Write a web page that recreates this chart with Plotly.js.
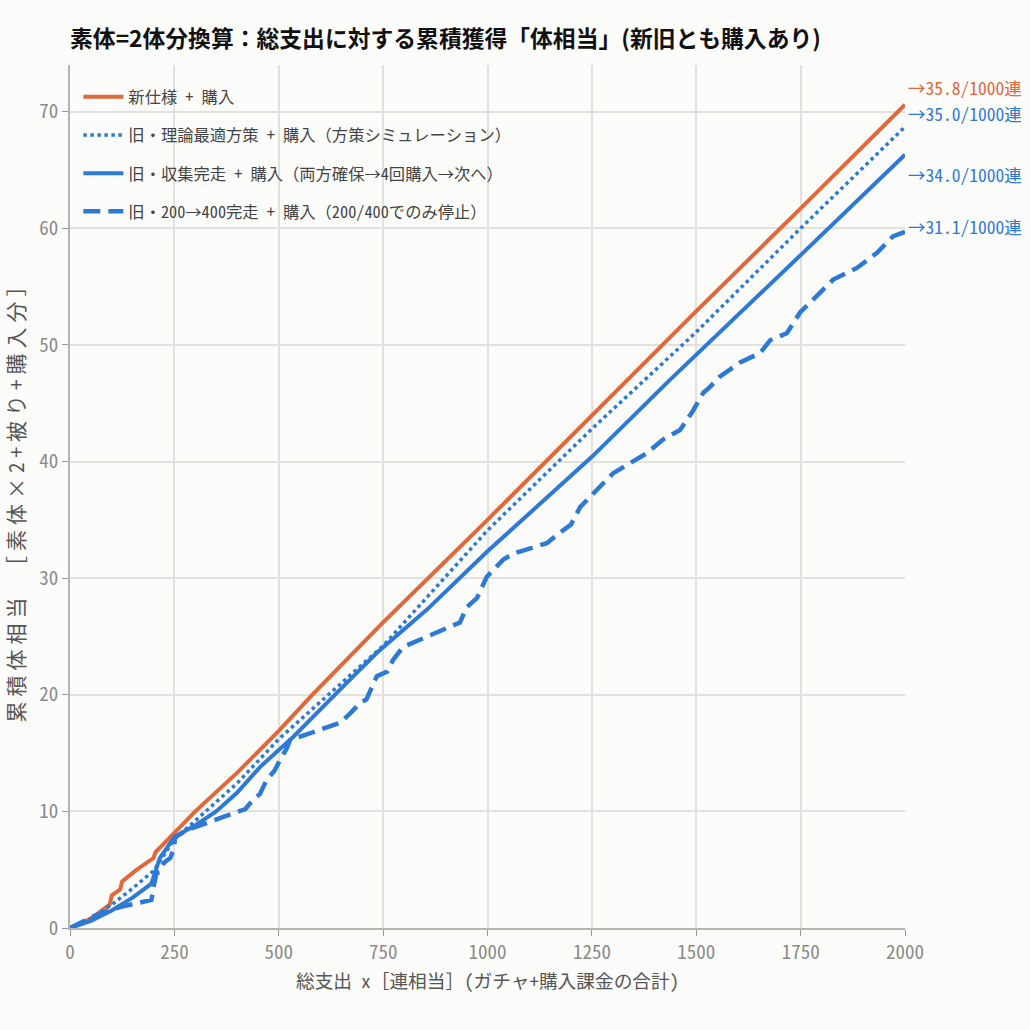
<!DOCTYPE html>
<html>
<head>
<meta charset="utf-8">
<script src="https://cdn.plot.ly/plotly-3.0.1.min.js"></script>
<style>
  body{margin:0;background:#fcfcfb;}
  #grafico{width:1030px;height:1030px;}
  #grafico .ytitle{letter-spacing:5px;}
</style>
</head>
<body>
<div id="grafico"></div>
<script>
// datos
var nuevoX=[0,50,95,100,120,125,160,200,205,250,300,400,455,500,583,750,1000,1250,1500,1750,2000];
var nuevoY=[0,0.8,2.0,2.8,3.3,4.0,5.0,6.0,6.5,8.2,10.0,13.3,15.3,16.9,20.1,26.2,35.0,44.0,52.9,61.7,70.6];

var teoriaX=[0,50,100,150,200,250,300,400,500,750,1000,1250,1500,1750,2000];
var teoriaY=[0,0.8,2.0,3.4,4.9,7.6,9.2,12.4,16.2,24.2,34.1,42.8,51.1,60.0,68.7];

var coleccionX=[0,50,100,150,195,215,250,300,350,400,455,535,654,735,855,1000,1250,1437,1750,2000];
var coleccionY=[0,0.6,1.5,2.6,3.8,6.0,7.8,8.8,10.0,11.6,13.8,16.4,20.7,23.6,27.3,32.3,40.4,47.0,57.7,66.3];

var parcialX=[0,56,120,195,200,207,215,225,240,248,252,280,327,400,420,439,455,471,490,503,519,527,647,671,695,710,735,760,774,798,934,950,975,998,1038,1062,1142,1181,1200,1222,1262,1301,1381,1421,1461,1493,1517,1533,1557,1605,1653,1677,1717,1749,1789,1828,1885,1933,1971,2000];
var parcialY=[0,1.0,1.8,2.4,3.5,4.7,4.8,5.6,6.0,6.7,7.8,8.4,9.0,9.9,10.2,11.0,11.5,12.7,13.5,14.4,15.4,16.1,17.6,18.4,19.3,19.6,21.6,22.0,23.0,24.1,26.2,27.5,28.3,30.1,31.6,32.1,33.0,34.1,34.6,36.1,37.6,39.0,40.7,41.9,42.7,44.4,45.9,46.4,47.3,48.5,49.3,50.4,51.0,52.8,54.2,55.6,56.6,57.9,59.3,59.7];

var nombres=["新仕様 + 購入","旧・理論最適方策 + 購入（方策シミュレーション）","旧・収集完走 + 購入（両方確保→4回購入→次へ）","旧・200→400完走 + 購入（200/400でのみ停止）"];
var tasas=["→35.8/1000連","→35.0/1000連","→34.0/1000連","→31.1/1000連"];

var naranja="#e2683a";
var azul="#2c7ad6";
var mono="'Noto Sans Mono CJK JP','DejaVu Sans Mono',monospace";

var trace1={x:nuevoX,y:nuevoY,type:'scatter',mode:'lines',name:nombres[0],legendgroup:'a',
  line:{color:naranja,width:4}};
var trace2={x:teoriaX,y:teoriaY,type:'scatter',mode:'lines',name:nombres[1],legendgroup:'b',
  line:{color:azul,width:3.5,dash:'dot'}};
var trace3={x:coleccionX,y:coleccionY,type:'scatter',mode:'lines',name:nombres[2],legendgroup:'c',
  line:{color:azul,width:4}};
var trace4={x:parcialX,y:parcialY,type:'scatter',mode:'lines',name:nombres[3],legendgroup:'d',
  line:{color:azul,width:4.5,dash:'17px,8px'}};

var data=[trace1,trace2,trace3,trace4];

// etiquetas a la derecha
var desplaz=[17,13,-20,5];
var colores=[naranja,azul,azul,azul];
var notas=[];
for (let i = 0; i < data.length; i++) {
  const t = data[i];
  notas.push({xref:'paper',x:1,xanchor:'left',xshift:1,
    yref:'y',y:t.y[t.y.length-1],yshift:desplaz[i],
    text:tasas[i],showarrow:false,
    font:{family:mono,size:17.5,color:colores[i]}});
}

var layout={
  width:1030,height:1030,
  paper_bgcolor:'#fcfcfb',plot_bgcolor:'#fcfcfb',
  margin:{l:70,r:125,t:65,b:102},
  font:{family:mono,color:'#555'},
  title:{text:'<b>素体=2体分換算：総支出に対する累積獲得「体相当」(新旧とも購入あり)</b>',
    x:0.068,xanchor:'left',xref:'container',y:0.962,yanchor:'middle',yref:'container',
    font:{size:22.8,color:'#111',family:"'Noto Sans CJK JP',sans-serif"}},
  xaxis:{range:[0,2000],dtick:250,tick0:0,
    showgrid:true,gridcolor:'#e2e1dc',gridwidth:1.5,zeroline:false,
    showline:true,linecolor:'#b5b5b0',linewidth:2,
    ticks:'outside',ticklen:6,tickcolor:'#999',
    tickfont:{family:mono,size:19,color:'#8a8a8a'},
    title:{text:'総支出 x［連相当］(ガチャ+購入課金の合計)',standoff:12,
      font:{family:mono,size:18.7,color:'#555'}}},
  yaxis:{range:[0,74],dtick:10,tick0:0,
    showgrid:true,gridcolor:'#e2e1dc',gridwidth:1.5,zeroline:false,
    showline:true,linecolor:'#b5b5b0',linewidth:2,
    ticks:'outside',ticklen:6,tickcolor:'#999',
    tickfont:{family:mono,size:19,color:'#8a8a8a'},
    title:{text:'累積体相当 ［素体×2+被り+購入分］',standoff:12,
      font:{family:mono,size:21,color:'#555'}}},
  legend:{x:0.01,y:0.983,xanchor:'left',yanchor:'top',bgcolor:'rgba(0,0,0,0)',
    traceorder:'grouped',tracegroupgap:14,itemwidth:40,
    font:{size:16.3,color:'#444',family:mono}},
  annotations:notas,
  showlegend:true
};

Plotly.newPlot("grafico",data,layout,{displayModeBar:false});
</script>
</body>
</html>
